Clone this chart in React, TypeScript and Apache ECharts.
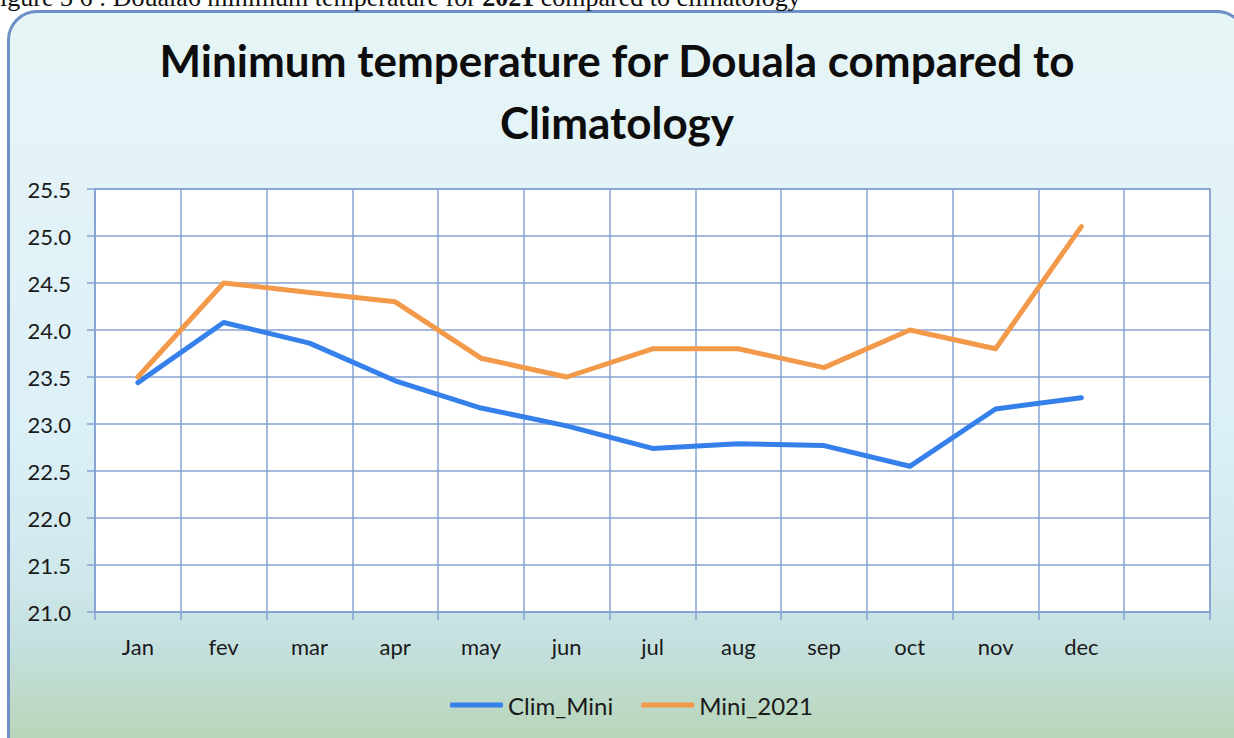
import React, { useEffect, useRef } from "react";
import * as echarts from "echarts";

const categories = ["Jan", "fev", "mar", "apr", "may", "jun", "jul", "aug", "sep", "oct", "nov", "dec", ""];
const climMini = [23.44, 24.08, 23.86, 23.46, 23.17, 22.98, 22.74, 22.79, 22.77, 22.55, 23.16, 23.28, null];
const mini2021 = [23.5, 24.5, 24.4, 24.3, 23.7, 23.5, 23.8, 23.8, 23.6, 24.0, 23.8, 25.1, null];
const seriesNames = ["Clim_Mini", "Mini_2021"];
const titleText = "Minimum temperature for Douala compared to\nClimatology";
const captionText = "igure 3 6 : Douala6 minimum temperature for {b|2021} compared to climatology";

const GRID_COLOR = "#86a2d2";
const FONT = "Lato, 'Open Sans', sans-serif";

export default function App() {
  const ref = useRef<HTMLDivElement>(null);
  useEffect(() => {
    if (!ref.current) return;
    const chart = echarts.init(ref.current, undefined, { renderer: "svg" });
    chart.setOption({
      animation: false,
      backgroundColor: "transparent",
      title: {
        text: titleText,
        left: "center",
        top: 24,
        textStyle: {
          fontFamily: FONT,
          fontSize: 44,
          fontWeight: "bold",
          color: "#0d0d0d",
          lineHeight: 62,
        },
      },
      graphic: [
        {
          type: "text",
          left: 0,
          top: -16,
          style: {
            text: captionText,
            fontFamily: "'Liberation Serif', serif",
            fontSize: 26,
            fill: "#111",
            rich: {
              b: { fontFamily: "'Liberation Serif', serif", fontSize: 26, fontWeight: "bold", fill: "#111" },
            },
          },
        },
      ],
      legend: {
        top: 688,
        left: 445,
        icon: "roundRect",
        itemWidth: 53,
        itemHeight: 5,
        itemGap: 28,
        textStyle: { fontFamily: FONT, fontSize: 24, color: "#1a1a1a" },
        data: seriesNames,
      },
      grid: {
        left: 95,
        top: 189,
        width: 1115,
        height: 423,
        show: true,
        backgroundColor: "#ffffff",
        borderColor: GRID_COLOR,
        borderWidth: 1.5,
      },
      xAxis: {
        type: "category",
        data: categories,
        boundaryGap: true,
        axisLine: { lineStyle: { color: GRID_COLOR, width: 1.5 } },
        axisTick: { show: true, length: 8, interval: 0, lineStyle: { color: GRID_COLOR, width: 1.5 } },
        axisLabel: { interval: 0, margin: 23, fontFamily: FONT, fontSize: 22, color: "#1a1a1a" },
        splitLine: { show: true, interval: 0, lineStyle: { color: GRID_COLOR, width: 1.5 } },
      },
      yAxis: {
        type: "value",
        min: 21,
        max: 25.5,
        interval: 0.5,
        axisLine: { show: true, lineStyle: { color: GRID_COLOR, width: 1.5 } },
        axisTick: { show: true, length: 8, lineStyle: { color: GRID_COLOR, width: 1.5 } },
        axisLabel: {
          margin: 24,
          fontFamily: FONT,
          fontSize: 22,
          color: "#1a1a1a",
          formatter: (v: number) => v.toFixed(1),
        },
        splitLine: { show: true, lineStyle: { color: GRID_COLOR, width: 1.5 } },
      },
      series: [
        {
          name: seriesNames[0],
          type: "line",
          data: climMini,
          showSymbol: false,
          symbol: "none",
          lineStyle: { color: "#3580ea", width: 5, cap: "round", join: "round" },
          itemStyle: { color: "#3580ea" },
        },
        {
          name: seriesNames[1],
          type: "line",
          data: mini2021,
          showSymbol: false,
          symbol: "none",
          lineStyle: { color: "#f2994a", width: 5, cap: "round", join: "round" },
          itemStyle: { color: "#f2994a" },
        },
      ],
    });
    return () => chart.dispose();
  }, []);

  return (
    <div style={{ position: "absolute", left: 0, top: 0, width: 1234, height: 738, overflow: "hidden", background: "#fff" }}>
      <div
        style={{
          position: "absolute",
          left: 7,
          top: 10,
          width: 1240,
          height: 760,
          boxSizing: "border-box",
          border: "3px solid #6f90c6",
          borderRadius: 30,
          background:
            "linear-gradient(to bottom, #e6f6f6 0%, #e2f2f7 25%, #dcf0f7 55%, #cfe8ec 75%, #c3dfdc 85%, #b5d2ad 100%)",
        }}
      />
      <div ref={ref} style={{ position: "absolute", left: 0, top: 0, width: 1234, height: 738 }} />
    </div>
  );
}
